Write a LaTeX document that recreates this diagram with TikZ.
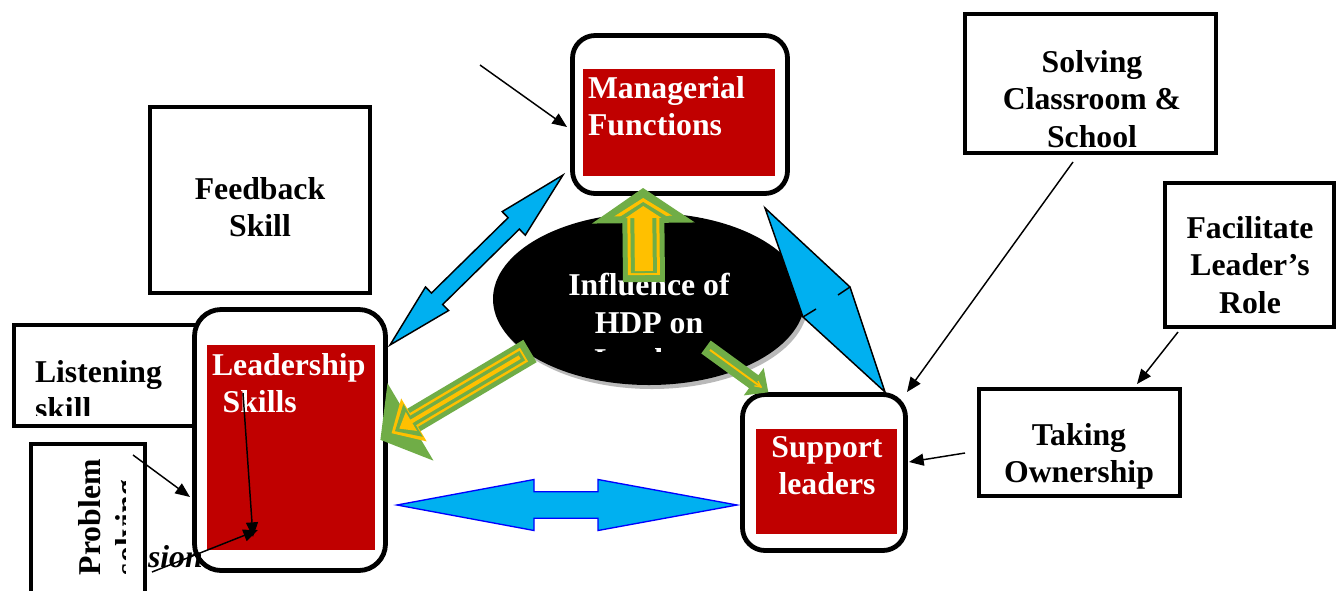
\documentclass[tikz,border=0pt]{standalone}
\usepackage{fontspec}
\setmainfont{Liberation Serif}
\usetikzlibrary{arrows.meta,calc,shapes.geometric}
\definecolor{dred}{HTML}{C00000}
\definecolor{sky}{HTML}{00B0F0}
\definecolor{lgreen}{HTML}{70AD47}
\definecolor{gold}{HTML}{FFC000}
% fat single arrow in local coordinates: opts, start, tip, half shaft, half head, head length
\newcommand\fatarrow[6]{%
  \path[#1] (#2,-#4) -- ({#3-#6},-#4) -- ({#3-#6},-#5) -- (#3,0) -- ({#3-#6},#5) -- ({#3-#6},#4) -- (#2,#4) -- cycle;}
% fat double arrow: opts, length, half shaft, half head, head length 1, head length 2
\newcommand\dblarrow[6]{%
  \path[#1] (0,0) -- (#5,#4) -- (#5,#3) -- ({#2-#6},#3) -- ({#2-#6},#4) -- (#2,0) -- ({#2-#6},-#4) -- ({#2-#6},-#3) -- (#5,-#3) -- (#5,-#4) -- cycle;}
\begin{document}
\begin{tikzpicture}[x=0.75pt,y=-0.75pt,
  every node/.style={font=\fontsize{23.8}{28}\selectfont\bfseries, inner sep=0pt, outer sep=0pt},
  sqbox/.style={draw, line width=3pt, fill=white, rectangle},
  rbox/.style={draw, line width=3.6pt, fill=white, rounded corners=17pt},
  redbox/.style={fill=dred},
  lbl/.style={align=center, anchor=north},
  wlbl/.style={text=white},
  link/.style={line width=1.1pt, -{Triangle[length=11pt,width=9pt]}},
  blueshape/.style={fill=sky, draw=black, line width=1.1pt, line join=miter},
]
\useasboundingbox[fill=white] (0,0) rectangle (1338,590);

% Feedback
\node[sqbox, minimum width=165pt, minimum height=139.5pt] (fb) at (260,200) {};
\node[lbl] (fbt) at (260,177.5) {Feedback\\Skill};

% Listening
\node[sqbox, minimum width=141.75pt, minimum height=75.75pt] (ls) at (108.5,375.5) {};
\begin{scope}
  \clip (14,325) rectangle (200,415);
  \node[align=left, anchor=north west] (lst) at (35,360.5) {Listening\\skill};
\end{scope}

% Leadership
\node[rbox, rounded corners=20pt, minimum width=143.25pt, minimum height=195.75pt] (lead) at (290,440) {};
\node[redbox, minimum width=126pt, minimum height=153.75pt] (leadr) at (291,447.5) {};
\node[wlbl, align=left, anchor=north west] (leadt) at (212,353.5) {Leadership\\\hspace*{8pt}Skills};

% Problem solving
\node[sqbox, minimum width=85.5pt, minimum height=115.5pt] (ps) at (88,521) {};
\begin{scope}
  \clip (31,444) rectangle (125,588);
  \node[rotate=90, align=left, anchor=north west] (pst) at (78.5,575) {Problem\\solving};
\end{scope}
\node[anchor=base west, font=\fontsize{23.8}{28}\selectfont\bfseries\itshape] (sion) at (148,567) {sion};

% Managerial
\node[rbox, minimum width=161.25pt, minimum height=118.5pt] (mgr) at (680,114.5) {};
\node[redbox, minimum width=144pt, minimum height=80.25pt] (mgrr) at (679,122.5) {};
\node[wlbl, align=left, anchor=north west] (mgrt) at (588,76.5) {Managerial\\Functions};

% Support
\node[rbox, minimum width=122.25pt, minimum height=117pt] (sup) at (824,472.5) {};
\node[redbox, minimum width=105.75pt, minimum height=78.75pt] (supr) at (826.5,481.5) {};
\node[wlbl, lbl] (supt) at (827,436.5) {Support\\leaders};

% ellipse
\node[ellipse, fill=gray!55, minimum width=234pt, minimum height=129pt] (ellsh) at (652,303) {};
\node[ellipse, fill=black, minimum width=234pt, minimum height=129pt] (ell) at (649,299) {};
\begin{scope}
  \clip (520,250) rectangle (780,351);
  \node[wlbl, lbl] (ellt) at (649,273.5) {Influence of\\HDP on\\Leaders};
\end{scope}

% blue double arrows
\coordinate (bdA) at (390,345);
\coordinate (bdB) at (563,175);
\begin{scope}[shift={(bdA)}, rotate=44.5]
  \dblarrow{blueshape}{242.5}{8}{16.5}{66}{69}
\end{scope}
\coordinate (bhA) at (397,505);
\coordinate (bhB) at (737,505);
\begin{scope}[shift={(bhA)}]
  \dblarrow{fill=sky, draw=blue, line width=1pt, line join=miter}{340}{13.3}{25.5}{137}{139}
\end{scope}
% kite between managerial and support
\path[blueshape] (765,208) -- (850,287) -- (885,392) -- (803,317) -- cycle;
\draw[line width=1.1pt] (838,295) -- (850,287) (803,317) -- (816,309);

% green arrows
\coordinate (gU) at (644,282);
\begin{scope}[shift={(gU)}, rotate=90.6]
  \fatarrow{fill=lgreen}{0}{94}{21}{51.5}{35}
  \fatarrow{fill=gold}{7}{84}{16}{29}{18}
  \fatarrow{fill=lgreen}{9}{80}{13}{24}{15}
  \fatarrow{fill=gold}{11}{76}{9}{18}{12}
\end{scope}
\coordinate (gL) at (530,351);
\begin{scope}[shift={(gL)}, rotate=210.7]
  \fatarrow{fill=lgreen}{0}{174}{13}{45}{35}
  \fatarrow{fill=gold}{7}{161}{8}{25}{26}
  \fatarrow{fill=lgreen}{9}{157}{5.5}{19}{21}
  \fatarrow{fill=gold}{12}{152}{2}{11}{14}
\end{scope}
\coordinate (gS) at (706,347);
\begin{scope}[shift={(gS)}, rotate=-36]
  \fatarrow{fill=lgreen}{0}{77}{8}{17}{18}
  \draw[gold, line width=1.5pt] (5,0) -- (68,0);
  \draw[gold, line width=1pt] (62,-3) -- (68,0) -- (62,3);
\end{scope}

% right boxes
\node[sqbox, minimum width=188.25pt, minimum height=104.25pt] (sol) at (1090.5,83.5) {};
\node[lbl] (solt) at (1092,50.5) {Solving\\Classroom \&\\School};
\node[sqbox, minimum width=126.75pt, minimum height=108pt] (fac) at (1249.5,255) {};
\node[lbl] (fact) at (1250,216.5) {Facilitate\\Leader’s\\Role};
\node[sqbox, minimum width=150.75pt, minimum height=80.25pt] (tak) at (1079.5,442.5) {};
\node[lbl] (takt) at (1079,423.5) {Taking\\Ownership};

% black connectors
\coordinate (m0) at (480,65);
\coordinate (m1) at (567,127);
\draw[link] (m0) -- (m1);
\coordinate (s0) at (1073,162);
\coordinate (s1) at (907,392);
\draw[link] (s0) -- (s1);
\coordinate (f0) at (1178,332);
\coordinate (f1) at (1137,384);
\draw[link] (f0) -- (f1);
\coordinate (t0) at (965,453);
\coordinate (t1) at (909,462);
\draw[link] (t0) -- (t1);
\coordinate (p0) at (133,455);
\coordinate (p1) at (190,497);
\draw[link] (p0) -- (p1);
\coordinate (l0) at (243,393);
\coordinate (l1) at (253,537);
\draw[link] (l0) -- (l1);
\coordinate (d0) at (152,572);
\coordinate (d1) at (258,530);
\draw[link] (d0) -- (d1);
\end{tikzpicture}
\end{document}
